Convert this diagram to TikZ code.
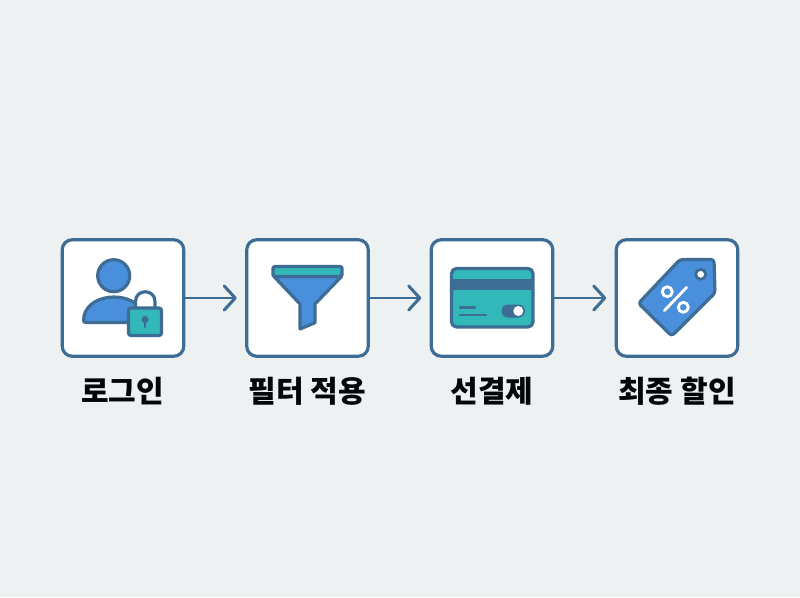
\documentclass[tikz,border=0pt]{standalone}
\usepackage{fontspec}
\setmainfont{Noto Sans CJK KR}[BoldFont={Noto Sans CJK KR Black}]
\usetikzlibrary{arrows.meta}
\definecolor{bgc}{HTML}{EDF1F2}
\definecolor{edgec}{HTML}{3D6C94}
\definecolor{bluec}{HTML}{4A8FDB}
\definecolor{tealc}{HTML}{32B8B8}
\tikzset{
  x=1pt,y=-1pt,
  cardbox/.style={draw=edgec,line width=3.2pt,fill=white,rounded corners=10pt,minimum width=121.5pt,minimum height=116.5pt,outer sep=0pt,inner sep=0pt},
  flow/.style={draw=edgec,line width=2.8pt,shorten >=10pt,-{Straight Barb[length=11pt,width=24pt,line width=3pt,round]}},
  lab/.style={font=\fontsize{30pt}{33pt}\selectfont\bfseries,text=black!95!edgec,inner sep=0pt},
  ico/.style={draw=edgec,line width=3.2pt,line join=round,line cap=round},
}
\begin{document}
\begin{tikzpicture}
\useasboundingbox (0,0) rectangle (800,597);
\fill[bgc] (0,0) rectangle (800,597);

\node[cardbox] (b1) at (123,298) {};
\node[cardbox] (b2) at (307.5,298) {};
\node[cardbox] (b3) at (492,298) {};
\node[cardbox] (b4) at (677,298) {};

\draw[flow] (b1) -- (b2);
\draw[flow] (b2) -- (b3);
\draw[flow] (b3) -- (b4);

\node[lab] (t1) at (122.5,391) {로그인};
\node[lab] (t2) at (307.5,391) {필터 적용};
\node[lab] (t3) at (492,391) {선결제};
\node[lab] (t4) at (677,391) {최종 할인};

% person with lock
\draw[ico,fill=bluec] (113.7,275.7) circle (16);
\draw[ico,fill=bluec] (85.5,322.5) .. controls (83,322.5) and (83.5,319) .. (84,316) .. controls (87,303) and (101,297) .. (114,297) .. controls (127,297) and (141,303) .. (144,316) -- (144,322.5) -- cycle;
\draw[ico,fill=white] (135.5,309) -- (135.5,301.5) .. controls (135.5,288.5) and (155,288.5) .. (155,301.5) -- (155,309);
\draw[ico,fill=tealc,rounded corners=2.5pt] (128.5,308) rectangle (161.5,335.5);
\fill[edgec] (145,319.5) circle (3.6);
\draw[edgec,line width=2.2pt,line cap=round] (145,320) -- (145,327);

% funnel
\draw[ico,fill=bluec] (274,276.5) -- (300,304) -- (300,329) -- (315,322.7) -- (315,304) -- (341.5,276.5) -- cycle;
\draw[ico,fill=tealc,rounded corners=1.5pt] (273,266.5) rectangle (342,276.5);

% card
\draw[ico,fill=tealc,rounded corners=5pt] (451.5,268.5) rectangle (533,327);
\fill[edgec] (451.5,279) rectangle (533,290);
\draw[edgec,line width=2.4pt,line cap=round] (460,307.5) -- (475,307.5);
\draw[edgec,line width=2.4pt,line cap=round] (460,315) -- (486,315);
\fill[edgec,rounded corners=6.4pt] (501.5,304.5) rectangle (525,317.5);
\fill[white] (518.3,311) circle (5);

% tag
\draw[ico,fill=bluec,rounded corners=3pt] (680,259.5) -- (714,259.5) -- (715,293) -- (671.7,336) -- (638.5,303.3) -- cycle;
\draw[edgec,line width=2.8pt,fill=white] (700.7,274.3) circle (5);
\draw[white,line width=2.8pt] (667.3,291.7) circle (5);
\draw[white,line width=2.8pt] (683.3,307.3) circle (5);
\draw[white,line width=2.8pt,line cap=round] (686.7,287.3) -- (664.3,310.7);
\end{tikzpicture}
\end{document}
